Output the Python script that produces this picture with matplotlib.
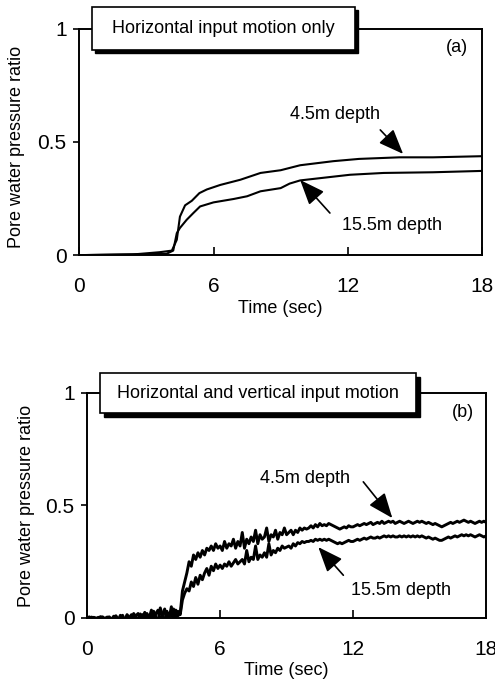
import numpy as np
import matplotlib
matplotlib.use("Agg")
import matplotlib.pyplot as plt
from matplotlib.patches import Rectangle

plt.rcParams['font.family'] = ['Liberation Sans', 'DejaVu Sans']

# (a) horizontal input only
t_a_shallow = [0, 2.4, 3.6, 4.14, 4.36, 4.5, 4.73, 5.03, 5.37, 5.7, 6.3, 7.2,
               8.1, 9.0, 9.87, 11.35, 12.5, 14.3, 15.8, 18.0]
p_a_shallow = [0, 0.003, 0.013, 0.02, 0.068, 0.17, 0.22, 0.24, 0.274, 0.29,
               0.31, 0.333, 0.363, 0.375, 0.397, 0.415, 0.425, 0.432, 0.432, 0.437]
t_a_deep = [0, 3.9, 4.2, 4.36, 4.5, 4.8, 5.1, 5.4, 6.0, 6.9, 7.5, 8.1, 9.0,
            9.4, 9.87, 10.76, 12.1, 13.6, 15.8, 18.0]
p_a_deep = [0, 0.006, 0.02, 0.097, 0.12, 0.156, 0.186, 0.215, 0.233, 0.248,
            0.26, 0.282, 0.296, 0.316, 0.33, 0.34, 0.355, 0.363, 0.366, 0.372]

# (b) horizontal + vertical input - sampled every 0.1 s
t_b = np.round(np.arange(0, 18.05, 0.1), 1)
p_b_shallow = [
    0.00, 0.005, -0.005, 0.003, 0.0, -0.004, 0.006, 0.002, -0.003, 0.004,
    0.0, -0.006, 0.008, 0.002, -0.01, 0.012, 0.0, -0.008, 0.015, 0.003,
    -0.012, 0.02, 0.005, -0.015, 0.018, 0.0, 0.025, -0.01, 0.01, -0.02,
    0.03, 0.005, -0.025, 0.045, 0.01, -0.02, 0.03, 0.0, 0.05, -0.015,
    0.035, 0.01, 0.02, 0.12, 0.16, 0.2, 0.25, 0.23, 0.28, 0.26,
    0.29, 0.27, 0.3, 0.28, 0.31, 0.3, 0.32, 0.3, 0.33, 0.31,
    0.32, 0.3, 0.34, 0.31, 0.33, 0.32, 0.35, 0.31, 0.34, 0.32,
    0.38, 0.31, 0.35, 0.33, 0.36, 0.34, 0.39, 0.33, 0.37, 0.35,
    0.36, 0.4, 0.34, 0.37, 0.36, 0.39, 0.35, 0.38, 0.37, 0.4,
    0.37, 0.38, 0.39, 0.37, 0.39, 0.38, 0.4, 0.39, 0.4, 0.395,
    0.4, 0.41, 0.4, 0.415, 0.405, 0.42, 0.41, 0.415, 0.41, 0.42,
    0.415, 0.41, 0.405, 0.4, 0.395, 0.4, 0.405, 0.4, 0.41, 0.405,
    0.405, 0.41, 0.415, 0.41, 0.415, 0.42, 0.415, 0.42, 0.425, 0.415,
    0.42, 0.425, 0.42, 0.43, 0.42, 0.425, 0.43, 0.425, 0.43, 0.42,
    0.425, 0.43, 0.425, 0.42, 0.425, 0.43, 0.425, 0.42, 0.425, 0.43,
    0.425, 0.43, 0.425, 0.42, 0.425, 0.42, 0.415, 0.42, 0.415, 0.41,
    0.405, 0.41, 0.415, 0.42, 0.425, 0.42, 0.425, 0.43, 0.425, 0.43,
    0.435, 0.43, 0.425, 0.43, 0.425, 0.42, 0.425, 0.43, 0.425, 0.43,
    0.425]
p_b_deep = [
    0.002, -0.003, 0.004, 0.0, -0.005, 0.003, 0.0, 0.005, -0.004, 0.002,
    0.005, -0.008, 0.004, 0.01, -0.006, 0.002, 0.012, -0.01, 0.005, 0.0,
    0.015, -0.015, 0.01, 0.02, -0.01, 0.015, -0.02, 0.02, 0.0, 0.035,
    -0.015, 0.02, 0.035, -0.02, 0.015, 0.04, -0.025, 0.02, 0.01, 0.04,
    0.0, 0.03, 0.015, 0.08, 0.11, 0.13, 0.12, 0.16, 0.14, 0.18,
    0.15, 0.19, 0.17, 0.2, 0.22, 0.19, 0.23, 0.21, 0.24, 0.22,
    0.235, 0.22, 0.24, 0.23, 0.25, 0.23, 0.245, 0.26, 0.24, 0.25,
    0.26, 0.24, 0.3, 0.25, 0.27, 0.26, 0.32, 0.26, 0.28, 0.27,
    0.29, 0.27, 0.33, 0.28, 0.3, 0.29, 0.31, 0.3, 0.32, 0.31,
    0.315, 0.32, 0.31, 0.33, 0.32, 0.335, 0.33, 0.34, 0.335, 0.34,
    0.34, 0.345, 0.34, 0.35, 0.345, 0.35, 0.345, 0.35, 0.345, 0.35,
    0.345, 0.34, 0.335, 0.33, 0.335, 0.33, 0.335, 0.34, 0.345, 0.34,
    0.34, 0.345, 0.35, 0.345, 0.35, 0.355, 0.35, 0.355, 0.36, 0.355,
    0.355, 0.36, 0.355, 0.36, 0.365, 0.36, 0.365, 0.36, 0.365, 0.36,
    0.36, 0.365, 0.36, 0.365, 0.36, 0.365, 0.36, 0.365, 0.36, 0.365,
    0.36, 0.365, 0.36, 0.355, 0.36, 0.355, 0.35, 0.355, 0.35, 0.345,
    0.345, 0.35, 0.355, 0.36, 0.355, 0.36, 0.365, 0.36, 0.365, 0.37,
    0.365, 0.37, 0.365, 0.37, 0.365, 0.36, 0.365, 0.37, 0.365, 0.36,
    0.365]

x_ticks = [0, 6, 12, 18]
y_ticks = [0, 0.5, 1]
y_ticklabels = ['0', '0.5', '1']


def style_axes(ax):
    ax.set_xlim(0, 18)
    ax.set_ylim(0, 1)
    for s in ax.spines.values():
        s.set_linewidth(1.4)
    ax.set_xticks(x_ticks)
    ax.set_xticklabels([str(v) for v in x_ticks])
    ax.set_yticks(y_ticks)
    ax.set_yticklabels(y_ticklabels)
    ax.tick_params(axis='x', direction='in', length=6, width=1.2, pad=16, labelsize=15)
    ax.tick_params(axis='y', direction='out', length=4, width=1.2, pad=5, labelsize=15)
    ax.set_xlabel('Time (sec)', fontsize=13)
    ax.set_ylabel('Pore water pressure ratio', fontsize=13)


def title_box(fig, x0, y0, x1, y1, text, shadow):
    # box given in pixels from top-left
    W, H = 495, 684
    sh = Rectangle((x0 / W + shadow / W, 1 - (y1 + shadow) / H), (x1 - x0) / W, (y1 - y0) / H,
                   transform=fig.transFigure, facecolor='black', edgecolor='black', zorder=10)
    bx = Rectangle((x0 / W, 1 - y1 / H), (x1 - x0) / W, (y1 - y0) / H,
                   transform=fig.transFigure, facecolor='white', edgecolor='black',
                   linewidth=1.2, zorder=11)
    fig.patches.extend([sh, bx])
    fig.text((x0 + x1) / 2 / W, 1 - (y0 + y1) / 2 / H, text, ha='center', va='center',
             fontsize=13, zorder=12)


fig = plt.figure(figsize=(4.95, 6.84), dpi=100)
ax1 = fig.add_axes([0.160, 0.627, 0.814, 0.331])
ax2 = fig.add_axes([0.176, 0.0965, 0.806, 0.329])

arrow = dict(arrowstyle='-|>,head_length=0.7,head_width=0.28', color='black', lw=1.2,
             mutation_scale=22, shrinkA=0, shrinkB=0)

# panel (a)
ax1.plot(t_a_shallow, p_a_shallow, color='black', lw=1.5)
ax1.plot(t_a_deep, p_a_deep, color='black', lw=1.5)
style_axes(ax1)
ax1.xaxis.set_label_coords(0.5, -0.2)
ax1.yaxis.set_label_coords(-0.134, 0.48)
ax1.text(0.965, 0.916, '(a)', transform=ax1.transAxes, ha='right', va='center', fontsize=13)
ax1.annotate('', xy=(14.47, 0.447), xytext=(13.45, 0.553), arrowprops=arrow)
ax1.text(11.44, 0.62, '4.5m depth', ha='center', va='center', fontsize=13)
ax1.annotate('', xy=(9.87, 0.332), xytext=(11.2, 0.186), arrowprops=arrow)
ax1.text(13.99, 0.133, '15.5m depth', ha='center', va='center', fontsize=13)

# panel (b)
ax2.plot(t_b, p_b_shallow, color='black', lw=2.1)
ax2.plot(t_b, p_b_deep, color='black', lw=2.1)
style_axes(ax2)
ax2.xaxis.set_label_coords(0.5, -0.196)
ax2.yaxis.set_label_coords(-0.13, 0.5)
ax2.text(0.97, 0.915, '(b)', transform=ax2.transAxes, ha='right', va='center', fontsize=13)
ax2.annotate('', xy=(13.77, 0.444), xytext=(12.46, 0.605), arrowprops=arrow)
ax2.text(9.84, 0.618, '4.5m depth', ha='center', va='center', fontsize=13)
ax2.annotate('', xy=(10.43, 0.315), xytext=(11.56, 0.19), arrowprops=arrow)
ax2.text(14.18, 0.123, '15.5m depth', ha='center', va='center', fontsize=13)

title_box(fig, 92, 7, 355, 50, 'Horizontal input motion only', 3)
title_box(fig, 100, 373, 416, 413, 'Horizontal and vertical input motion', 4)

fig.savefig('out.png', dpi=100)
